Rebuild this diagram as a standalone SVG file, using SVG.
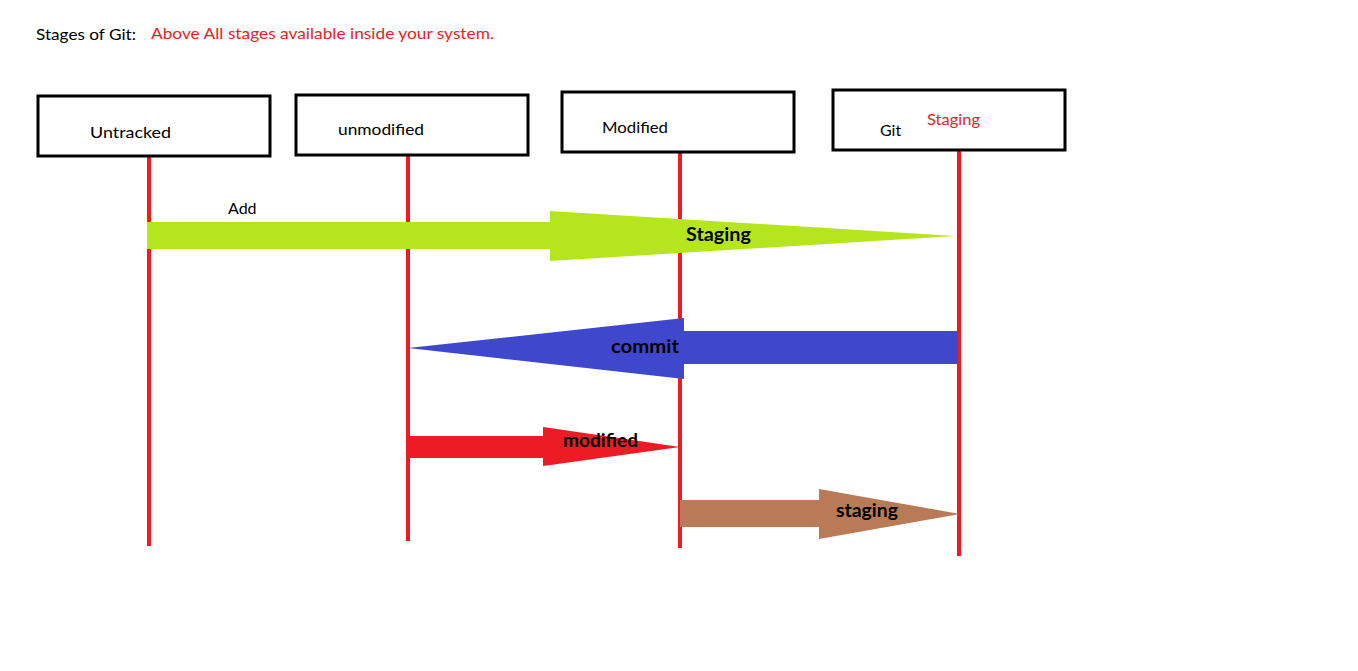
<svg xmlns="http://www.w3.org/2000/svg" width="1358" height="671" viewBox="0 0 1358 671">
<style>
  .box{fill:#fff;stroke:#000;stroke-width:3}
  .life{stroke:#ed1c24;stroke-width:4;fill:none}
  .t{font-family:Lato,"Liberation Sans",sans-serif;font-size:16px;fill:#000}
  .r{fill:#ed1c24}
  .b{font-family:Lato,"Liberation Sans",sans-serif;font-size:18px;font-weight:bold;fill:#000}
</style>
<rect width="1358" height="671" fill="#fff"/>
<g id="title">
  <text class="t" x="36" y="40" textLength="100" lengthAdjust="spacingAndGlyphs">Stages of Git:</text>
  <text class="t r" x="151" y="39" textLength="343" lengthAdjust="spacingAndGlyphs">Above All stages available inside your system.</text>
</g>
<g id="connectors">
  <line class="life" x1="149" y1="156" x2="149" y2="546"/>
  <line class="life" x1="408" y1="155" x2="408" y2="541"/>
  <line class="life" x1="680" y1="152" x2="680" y2="548"/>
  <line class="life" x1="959" y1="150" x2="959" y2="556"/>
  <g id="add-staging">
    <polygon fill="#b5e61d" points="147,222 550,222 550,211 955,236 550,261 550,249 147,249"/>
    <text class="t" x="228" y="214">Add</text>
    <text class="b" x="686" y="241" textLength="65" lengthAdjust="spacingAndGlyphs">Staging</text>
  </g>
  <g id="commit">
    <polygon fill="#3f48cc" points="958,331 684,331 684,318 408,348 684,379 684,364 958,364"/>
    <text class="b" x="611" y="353" textLength="68" lengthAdjust="spacingAndGlyphs">commit</text>
  </g>
  <g id="modified">
    <polygon fill="#ed1c24" points="408,436 543,436 543,427 680,447 543,466 543,458 408,458"/>
    <text class="b" x="563" y="447" textLength="75" lengthAdjust="spacingAndGlyphs">modified</text>
  </g>
  <g id="staging">
    <polygon fill="#b97a57" points="680,500 819,500 819,489 960,514 819,539 819,527 680,527"/>
    <text class="b" x="836" y="517" textLength="62" lengthAdjust="spacingAndGlyphs">staging</text>
  </g>
</g>
<g id="untracked">
  <rect class="box" x="38" y="96" width="232" height="60"/>
  <text class="t" x="90" y="138" textLength="81" lengthAdjust="spacingAndGlyphs">Untracked</text>
</g>
<g id="unmodified">
  <rect class="box" x="296" y="95" width="232" height="60"/>
  <text class="t" x="338" y="135" textLength="86" lengthAdjust="spacingAndGlyphs">unmodified</text>
</g>
<g id="modified-node">
  <rect class="box" x="562" y="92" width="232" height="60"/>
  <text class="t" x="602" y="133" textLength="66" lengthAdjust="spacingAndGlyphs">Modified</text>
</g>
<g id="git-staging">
  <rect class="box" x="833" y="90" width="232" height="60"/>
  <text class="t" x="880" y="136">Git</text>
  <text class="t r" x="927" y="125" textLength="53" lengthAdjust="spacingAndGlyphs">Staging</text>
</g>
</svg>
